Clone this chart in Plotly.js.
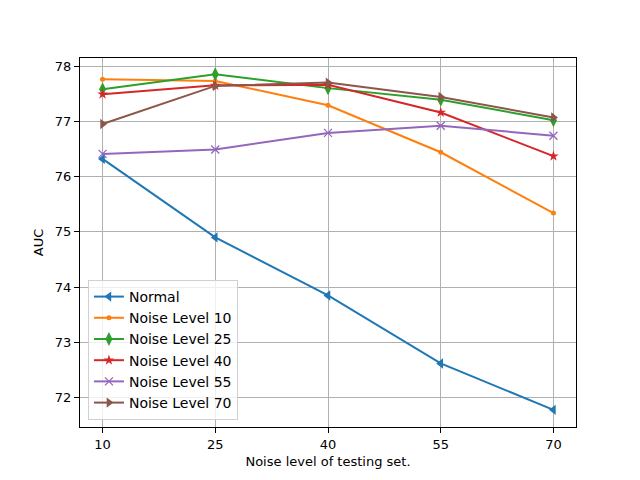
<!DOCTYPE html>
<html><head><meta charset="utf-8">
<script src="https://cdn.plot.ly/plotly-3.0.1.min.js"></script>
<style>body{margin:0;padding:0;}#chart{width:640px;height:480px;}</style>
</head><body><div id="chart"></div>
<script>
const noiseLevels = [10, 25, 40, 55, 70];
const normal = [76.32, 74.90, 73.85, 72.62, 71.78];
const noise10 = [77.76, 77.73, 77.29, 76.44, 75.34];
const noise25 = [77.58, 77.85, 77.60, 77.39, 77.02];
const noise40 = [77.49, 77.65, 77.66, 77.16, 76.37];
const noise55 = [76.41, 76.49, 76.79, 76.92, 76.74];
const noise70 = [76.95, 77.64, 77.70, 77.44, 77.07];
const seriesNames = ["Normal", "Noise Level 10", "Noise Level 25", "Noise Level 40", "Noise Level 55", "Noise Level 70"];
const yTicks = [72, 73, 74, 75, 76, 77, 78];

const series = [normal, noise10, noise25, noise40, noise55, noise70];
const colors = ["#1f77b4", "#ff7f0e", "#2ca02c", "#d62728", "#9467bd", "#8c564b"];
const symbols = ["triangle-left", "circle", "diamond-tall", "star", "x-thin-open", "triangle-right"];
const sizes = [9, 5, 10, 8, 8, 9];

const traces = series.map((ys, i) => ({
  x: noiseLevels, y: ys, name: seriesNames[i], type: "scatter", mode: "lines+markers",
  line: {color: colors[i], width: 2},
  marker: {symbol: symbols[i], size: sizes[i], color: colors[i], line: {color: colors[i], width: i === 4 ? 1.3 : 0}}
}));

const layout = {
  width: 640, height: 480,
  margin: {l: 80, r: 64, t: 58, b: 53},
  paper_bgcolor: "#fff", plot_bgcolor: "#fff",
  font: {family: "DejaVu Sans", size: 13, color: "#000"},
  showlegend: true,
  legend: {x: 0.016, y: 0.019, xanchor: "left", yanchor: "bottom",
    bgcolor: "rgba(255,255,255,0.8)", bordercolor: "#d0d0d0", borderwidth: 1,
    font: {family: "DejaVu Sans", size: 14}, tracegroupgap: 0, itemwidth: 30},
  xaxis: {range: [7, 73], tickvals: noiseLevels, ticktext: noiseLevels.map(String),
    showgrid: true, gridcolor: "#b0b0b0", gridwidth: 1, zeroline: false,
    showline: true, linecolor: "#000", linewidth: 1, mirror: true,
    ticks: "outside", ticklen: 5, tickcolor: "#000", tickfont: {size: 13},
    title: {text: "Noise level of testing set.", font: {size: 13}, standoff: 6}},
  yaxis: {range: [71.47, 78.145], tickvals: yTicks, ticktext: yTicks.map(String),
    showgrid: true, gridcolor: "#b0b0b0", gridwidth: 1, zeroline: false,
    showline: true, linecolor: "#000", linewidth: 1, mirror: true,
    ticks: "outside", ticklen: 5, tickcolor: "#000", tickfont: {size: 13},
    title: {text: "AUC", font: {size: 13}, standoff: 8}}
};
Plotly.newPlot("chart", traces, layout, {displayModeBar: false, staticPlot: true});
</script></body></html>
